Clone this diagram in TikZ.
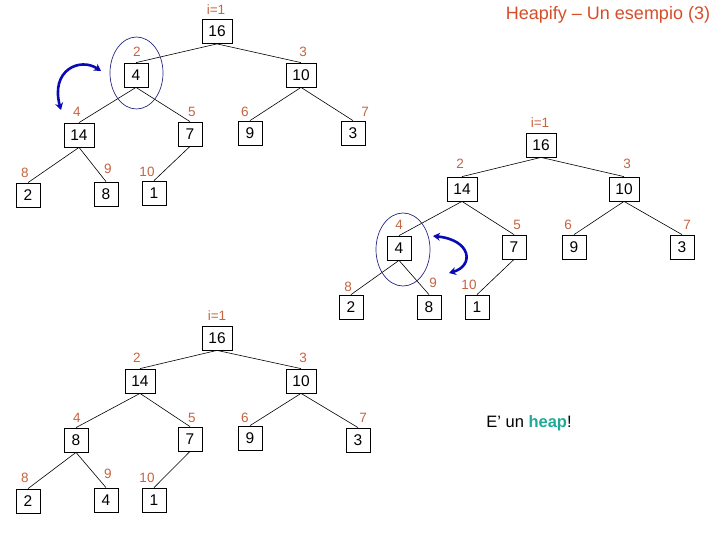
\documentclass[tikz,border=0pt]{standalone}
\usepackage{fontspec}
\setmainfont{Liberation Sans}
\usetikzlibrary{arrows.meta,shapes.geometric}
\definecolor{idxcol}{RGB}{196,100,64}
\definecolor{titcol}{RGB}{214,78,40}
\definecolor{arrcol}{RGB}{10,10,180}
\definecolor{elcol}{RGB}{40,40,130}
\definecolor{heapcol}{RGB}{30,170,150}
\tikzset{
  box/.style={draw,line width=0.8pt,minimum width=24pt,minimum height=24pt,inner sep=0pt,font=\fontsize{15.5}{15.5}\selectfont},
  wbox/.style={box,minimum width=30pt},
  idx/.style={text=idxcol,inner sep=0pt,font=\fontsize{13.5}{13.5}\selectfont},
  edge/.style={line width=0.6pt},
  ring/.style={draw=elcol,line width=0.7pt},
  swap/.style={draw=arrcol,line width=2.6pt,{Stealth[length=7pt,width=8pt]}-{Stealth[length=7pt,width=8pt]}}
}
\begin{document}
\begin{tikzpicture}[x=1pt,y=-1pt]
\useasboundingbox (0,0) rectangle (720,540);
\node[text=titcol,font=\fontsize{18}{18}\selectfont,inner sep=0pt] (title) at (608,15) {Heapify – Un esempio (3)};

% ---------- tree 1 ----------
\node[wbox] (a1) at (217,31.5) {16};
\node[box]  (a2) at (136,75) {4};
\node[wbox] (a3) at (301,75) {10};
\node[wbox] (a4) at (79,135) {14};
\node[box]  (a5) at (190,134) {7};
\node[box]  (a6) at (250,133) {9};
\node[box]  (a7) at (353,133) {3};
\node[box]  (a8) at (28,195) {2};
\node[box]  (a9) at (106,194) {8};
\node[box]  (a10) at (154,193) {1};
\node[idx] (ai1) at (216,10) {i=1};
\node[idx] (ai2) at (137,52) {2};
\node[idx] (ai3) at (303,52) {3};
\node[idx] (ai4) at (77,112) {4};
\node[idx] (ai5) at (192,112) {5};
\node[idx] (ai6) at (245,112) {6};
\node[idx] (ai7) at (365,112) {7};
\node[idx] (ai8) at (25,173) {8};
\node[idx] (ai9) at (108,169) {9};
\node[idx] (ai10) at (147,172) {10};
\foreach \p/\c in {a1/a2,a1/a3,a2/a4,a2/a5,a3/a6,a3/a7,a4/a8,a4/a9,a5/a10}
  \draw[edge] (\p.south) -- (\c.north);
\node[ring,ellipse,minimum width=53pt,minimum height=72pt,inner sep=0pt] (ae) at (136.5,73) {};
\coordinate (as) at (101,71);
\coordinate (at) at (61,110);
\draw[swap] (as) .. controls (80,57) and (50,70) .. (at);

% ---------- tree 2 ----------
\node[wbox] (b1) at (541,145) {16};
\node[wbox] (b2) at (462,189) {14};
\node[wbox] (b3) at (624,189) {10};
\node[box]  (b4) at (399,248) {4};
\node[box]  (b5) at (514,247) {7};
\node[box]  (b6) at (574,247) {9};
\node[box]  (b7) at (682,247) {3};
\node[box]  (b8) at (351,307) {2};
\node[box]  (b9) at (429,307) {8};
\node[box]  (b10) at (477,307) {1};
\node[idx] (bi1) at (540,123) {i=1};
\node[idx] (bi2) at (460,164) {2};
\node[idx] (bi3) at (627,164) {3};
\node[idx] (bi4) at (399,225) {4};
\node[idx] (bi5) at (517,225) {5};
\node[idx] (bi6) at (568,225) {6};
\node[idx] (bi7) at (687,225) {7};
\node[idx] (bi8) at (348,287) {8};
\node[idx] (bi9) at (433,283) {9};
\node[idx] (bi10) at (469,285) {10};
\foreach \p/\c in {b1/b2,b1/b3,b2/b4,b2/b5,b3/b6,b3/b7,b4/b8,b4/b9,b5/b10}
  \draw[edge] (\p.south) -- (\c.north);
\node[ring,ellipse,minimum width=54pt,minimum height=73pt,inner sep=0pt] (be) at (403,249.5) {};
\coordinate (bs) at (433,236);
\coordinate (bt) at (449,273);
\draw[swap] (bs) .. controls (472,240) and (474,266) .. (bt);

% ---------- tree 3 ----------
\node[wbox] (c1) at (217,338) {16};
\node[wbox] (c2) at (140,381) {14};
\node[wbox] (c3) at (301,381) {10};
\node[box]  (c4) at (76,440) {8};
\node[box]  (c5) at (190,439) {7};
\node[box]  (c6) at (250,438) {9};
\node[box]  (c7) at (358,440) {3};
\node[box]  (c8) at (28,501) {2};
\node[box]  (c9) at (106,500) {4};
\node[box]  (c10) at (154,500) {1};
\node[idx] (ci1) at (217,316) {i=1};
\node[idx] (ci2) at (137,358) {2};
\node[idx] (ci3) at (303,358) {3};
\node[idx] (ci4) at (77,418) {4};
\node[idx] (ci5) at (192,418) {5};
\node[idx] (ci6) at (245,418) {6};
\node[idx] (ci7) at (363,418) {7};
\node[idx] (ci8) at (25,478) {8};
\node[idx] (ci9) at (108,474) {9};
\node[idx] (ci10) at (147,478) {10};
\foreach \p/\c in {c1/c2,c1/c3,c2/c4,c2/c5,c3/c6,c3/c7,c4/c8,c4/c9,c5/c10}
  \draw[edge] (\p.south) -- (\c.north);

\node[inner sep=0pt,font=\fontsize{16.5}{16.5}\selectfont] (msg) at (529,423) {E’ un \textbf{\textcolor{heapcol}{heap}}!};
\end{tikzpicture}
\end{document}
